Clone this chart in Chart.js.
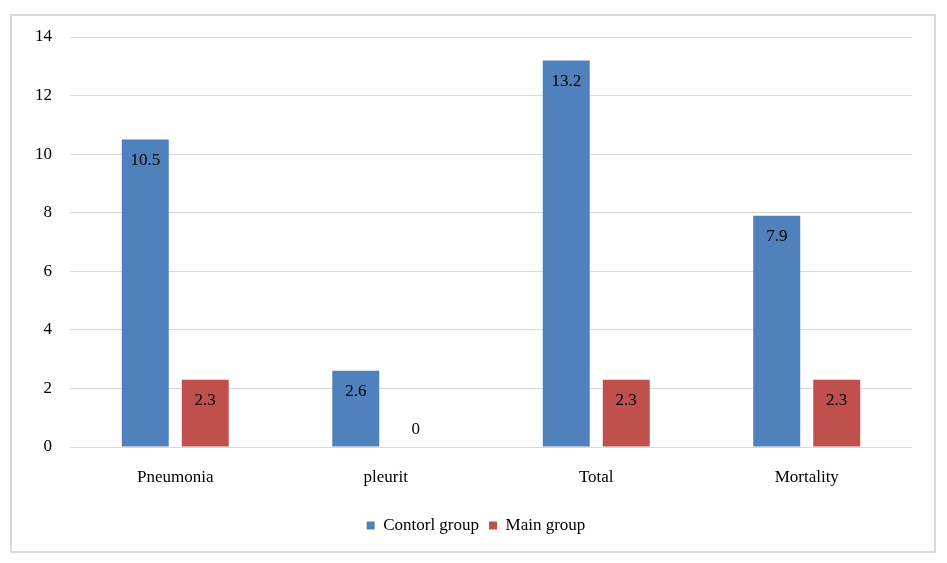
<!DOCTYPE html>
<html>
<head>
<meta charset="utf-8">
<script src="https://cdn.jsdelivr.net/npm/chart.js@4/dist/chart.umd.min.js"></script>
<style>
  html, body { margin: 0; padding: 0; background: #fff; }
  #wrap { width: 947px; height: 563px; position: relative; }
</style>
</head>
<body>
<div id="wrap"><canvas id="chart" width="947" height="563"></canvas></div>
<script>
const categories = ['Pneumonia', 'pleurit', 'Total', 'Mortality'];
const controlGroup = [10.5, 2.6, 13.2, 7.9];
const mainGroup = [2.3, 0, 2.3, 2.3];
const yTicks = [0, 2, 4, 6, 8, 10, 12, 14];

const FONT = '"Liberation Serif", "Times New Roman", serif';

// frame around the whole chart, legend nudged to the page centre
const framePlugin = {
  id: 'frame',
  afterLayout(chart) {
    if (chart.legend) {
      chart.legend.left += 20;
      chart.legend.right += 20;
    }
  },
  beforeDraw(chart) {
    const ctx = chart.ctx;
    ctx.save();
    ctx.strokeStyle = '#d9d9d9';
    ctx.lineWidth = 2;
    ctx.strokeRect(11, 15, 924, 537);
    ctx.restore();
  }
};

// value labels at the inside end of each bar
const valueLabels = {
  id: 'valueLabels',
  afterDatasetsDraw(chart) {
    const ctx = chart.ctx;
    ctx.save();
    ctx.font = '17px ' + FONT;
    ctx.fillStyle = '#000';
    ctx.textAlign = 'center';
    ctx.textBaseline = 'middle';
    chart.data.datasets.forEach((ds, i) => {
      chart.getDatasetMeta(i).data.forEach((bar, j) => {
        const v = ds.data[j];
        const y = v === 0 ? bar.y - 17 : bar.y + 21;
        ctx.fillText(String(v), bar.x, y);
      });
    });
    ctx.restore();
  }
};

new Chart(document.getElementById('chart'), {
  type: 'bar',
  data: {
    labels: categories,
    datasets: [{
      label: 'Contorl group',
      data: controlGroup,
      backgroundColor: '#4f81bd',
      categoryPercentage: 0.57,
      barPercentage: 0.783
    }, {
      label: 'Main group',
      data: mainGroup,
      backgroundColor: '#c0504d',
      categoryPercentage: 0.57,
      barPercentage: 0.783
    }]
  },
  options: {
    responsive: false,
    animation: false,
    layout: { padding: { top: 37, right: 35, bottom: 19, left: 0 } },
    plugins: {
      legend: {
        position: 'bottom',
        labels: {
          font: { family: FONT, size: 17 },
          color: '#000',
          boxWidth: 8,
          boxHeight: 8,
          padding: 10
        }
      },
      tooltip: { enabled: false }
    },
    scales: {
      x: {
        grid: { display: false },
        border: { display: false },
        ticks: { font: { family: FONT, size: 17 }, color: '#000', padding: 12 },
        afterFit(scale) { scale.height = 60; }
      },
      y: {
        min: 0,
        max: 14,
        afterBuildTicks(scale) { scale.ticks = yTicks.map(v => ({ value: v })); },
        grid: { color: '#d9d9d9', drawTicks: false },
        border: { display: false },
        ticks: { font: { family: FONT, size: 17 }, color: '#000', padding: 18 },
        afterFit(scale) { scale.width = 70; }
      }
    }
  },
  plugins: [framePlugin, valueLabels]
});
</script>
</body>
</html>
